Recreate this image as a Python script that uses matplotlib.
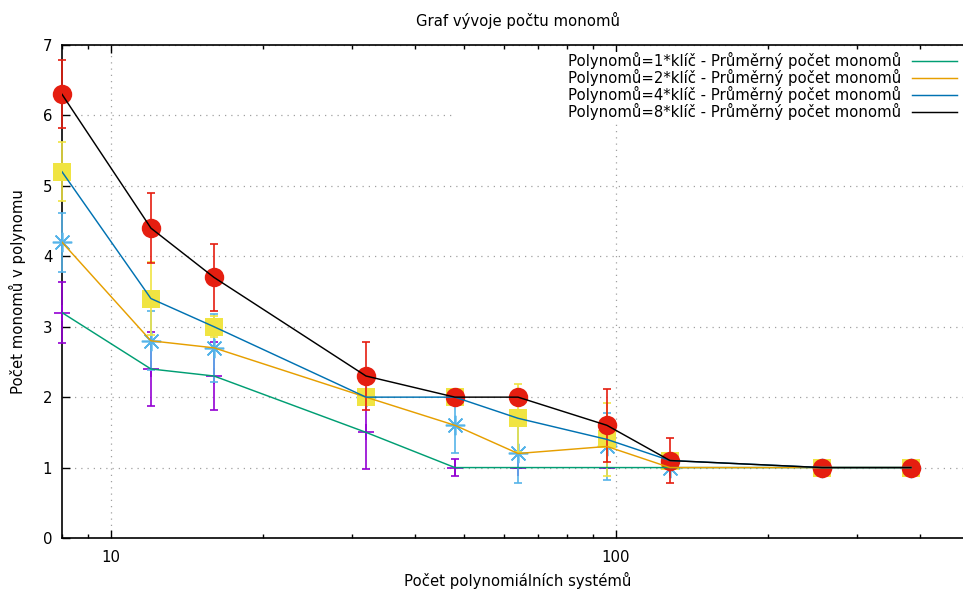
import matplotlib
matplotlib.use("Agg")
import matplotlib.pyplot as plt
from matplotlib.patches import Rectangle
from matplotlib.ticker import FixedLocator, NullFormatter

# ---- data ----
systems = [8, 12, 16, 32, 48, 64, 96, 128, 256, 384]
mean_k1 = [3.2, 2.4, 2.3, 1.5, 1.0, 1.0, 1.0, 1.0, 1.0, 1.0]
err_k1 = [0.43, 0.52, 0.48, 0.52, 0.12, 0.0, 0.0, 0.0, 0.0, 0.0]
mean_k2 = [4.2, 2.8, 2.7, 2.0, 1.6, 1.2, 1.3, 1.0, 1.0, 1.0]
err_k2 = [0.42, 0.42, 0.48, 0.0, 0.4, 0.42, 0.48, 0.0, 0.0, 0.0]
mean_k4 = [5.2, 3.4, 3.0, 2.0, 2.0, 1.7, 1.4, 1.1, 1.0, 1.0]
err_k4 = [0.42, 0.52, 0.15, 0.0, 0.0, 0.48, 0.52, 0.0, 0.0, 0.0]
mean_k8 = [6.3, 4.4, 3.7, 2.3, 2.0, 2.0, 1.6, 1.1, 1.0, 1.0]
err_k8 = [0.48, 0.5, 0.48, 0.48, 0.0, 0.0, 0.52, 0.32, 0.0, 0.0]

labels = ["Polynomů=1*klíč - Průměrný počet monomů",
          "Polynomů=2*klíč - Průměrný počet monomů",
          "Polynomů=4*klíč - Průměrný počet monomů",
          "Polynomů=8*klíč - Průměrný počet monomů"]

title = "Graf vývoje počtu monomů"
xlabel = "Počet polynomiálních systémů"
ylabel = "Počet monomů v polynomu"

means = [mean_k1, mean_k2, mean_k4, mean_k8]
errs = [err_k1, err_k2, err_k4, err_k8]
line_colors = ["#009e73", "#e69f00", "#0072b2", "#000000"]
err_colors = ["#9400d3", "#56b4e9", "#f0e442", "#e51e10"]
markers = ["+", (8, 2, 0), "s", "o"]
msizes = [11.5, 14, 13.5, 14]

plt.rcParams['font.family'] = ['DejaVu Sans']
FS = 10.7

W, H = 963, 589
fig = plt.figure(figsize=(W / 100, H / 100), dpi=100)
left, right, top, bottom = 62, 974, 45, 538
ax = fig.add_axes([left / W, (H - bottom) / H, (right - left) / W, (bottom - top) / H])

ax.set_xscale("log")
ax.set_xlim(8, 512)
ax.set_ylim(0, 7)

for m, e, ec, mk, ms in zip(means, errs, err_colors, markers, msizes):
    filled = mk in ("s", "o")
    eb = ax.errorbar(systems, m, yerr=e, fmt="none", ecolor=ec, elinewidth=1.2,
                     capsize=3, capthick=1.2, zorder=3)
    for art in eb.lines[1]:
        art.set_clip_on(False)
    for art in eb.lines[2]:
        art.set_clip_on(False)
    if filled:
        ax.plot(systems, m, linestyle="none", marker=mk, markersize=ms,
                color=ec, markeredgewidth=0, zorder=3, clip_on=False)
    else:
        ax.plot(systems, m, linestyle="none", marker=mk, markersize=ms,
                color=ec, markeredgewidth=1.2, zorder=3, clip_on=False)

handles = []
for m, lc, lab in zip(means, line_colors, labels):
    h, = ax.plot(systems, m, color=lc, linewidth=1.05, label=lab, zorder=4)
    handles.append(h)

# ticks
ax.xaxis.set_major_locator(FixedLocator([10, 100]))
ax.set_xticklabels(["10", "100"])
ax.xaxis.set_minor_locator(FixedLocator([8, 9, 20, 30, 40, 50, 60, 70, 80, 90,
                                         200, 300, 400, 500]))
ax.xaxis.set_minor_formatter(NullFormatter())
ax.set_yticks(range(0, 8))
ax.tick_params(axis="both", which="major", direction="in", length=6, width=1.0,
               top=True, right=True, labelsize=FS, color="black")
ax.tick_params(axis="both", which="minor", direction="in", length=3, width=1.0,
               top=True, right=True)
ax.tick_params(axis="x", which="major", pad=9)
ax.tick_params(axis="y", which="major", pad=7)

for s in ax.spines.values():
    s.set_linewidth(1.2)
    s.set_color("black")

ax.grid(True, which="major", color="#a0a0a0", linewidth=0.9,
        linestyle=(0, (1, 4)))

# opaque key area
kx0 = (455 - left) / (right - left)
ky0 = (bottom - 122) / (bottom - top)
ky1 = (bottom - 52) / (bottom - top)
ax.add_patch(Rectangle((kx0, ky0), 1 - kx0 - 0.003, ky1 - ky0, transform=ax.transAxes,
                       facecolor="white", edgecolor="none", zorder=2.2))

leg = ax.legend(handles=handles, loc="upper right", markerfirst=False, frameon=False,
                fontsize=FS, handlelength=3.05, handletextpad=0.7, labelspacing=0.0,
                borderaxespad=0.0,
                bbox_to_anchor=((963 - left) / (right - left), (bottom - 46) / (bottom - top)))
leg.set_zorder(5)

ax.set_title(title, fontsize=FS, pad=13.5)
ax.set_xlabel(xlabel, fontsize=FS, labelpad=4.5)
ax.set_ylabel(ylabel, fontsize=FS, labelpad=12)

fig.savefig("out.png", dpi=100)
